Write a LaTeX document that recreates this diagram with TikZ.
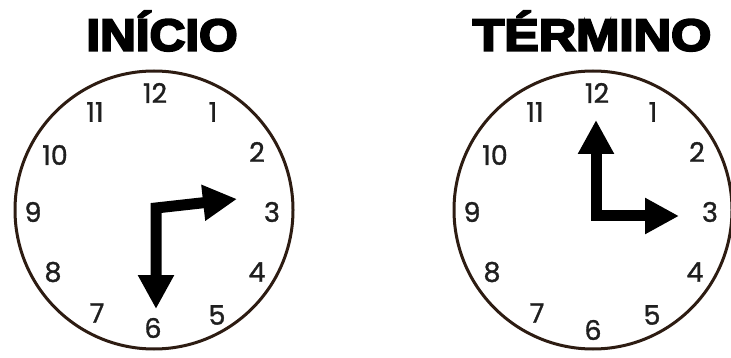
\documentclass[tikz,border=0pt]{standalone}
\usepackage{fontspec}
\setmainfont{Poppins}
\newfontfamily\numfont[FakeBold=1.2]{Poppins}
\newfontfamily\titlefont[FakeBold=4.5]{Liberation Sans Bold}
\usetikzlibrary{arrows.meta}
\definecolor{rim}{RGB}{45,28,18}
\tikzset{
  rimline/.style={draw=rim, line width=3pt},
  num/.style={font=\numfont\fontsize{27}{27}\selectfont, text=black!88, inner sep=0pt, anchor=center},
  ttl/.style={font=\titlefont\fontsize{45}{45}\selectfont, inner sep=0pt, anchor=center},
  hand/.style={line width=11pt, line join=miter,
    {Triangle[length=34pt,width=34pt]}-{Triangle[length=34pt,width=34pt]}}
}
\begin{document}
\begin{tikzpicture}[x=1pt,y=-1pt]
\useasboundingbox (0,0) rectangle (731,358);
% titles
\node[ttl, xscale=1.1] (t1) at (162,31) {INÍCIO};
\node[ttl, xscale=1.15] (t2) at (592,31) {TÉRMINO};
% left clock
\node[circle, rimline, minimum size=278pt, inner sep=0pt] (c1) at (154,210) {};
\foreach \n/\x/\y in {12/155/93, 1/213/112, 2/257/152, 3/272/212, 4/257/272, 5/217/315, 6/153/328, 7/97/313, 8/53/272, 9/33/212, 10/55/155, 11/95/112}
  \node[num] (l\n) at (\x,\y) {\n};
\coordinate (lc) at (156,208);
\coordinate (lh) at (237,199);
\coordinate (lm) at (156,309);
\draw[hand] (lm) -- (lc) -- (lh);
% right clock
\node[circle, rimline, minimum size=278pt, inner sep=0pt] (c2) at (593,210) {};
\foreach \n/\x/\y in {12/597/93, 1/653/112, 2/697/152, 3/710/212, 4/695/272, 5/652/315, 6/593/330, 7/537/313, 8/492/272, 9/472/212, 10/495/155, 11/535/112}
  \node[num] (r\n) at (\x,\y) {\n};
\coordinate (rc) at (596,216);
\coordinate (rh) at (596,120);
\coordinate (rm) at (679,216);
\draw[hand] (rh) -- (rc) -- (rm);
\end{tikzpicture}
\end{document}
